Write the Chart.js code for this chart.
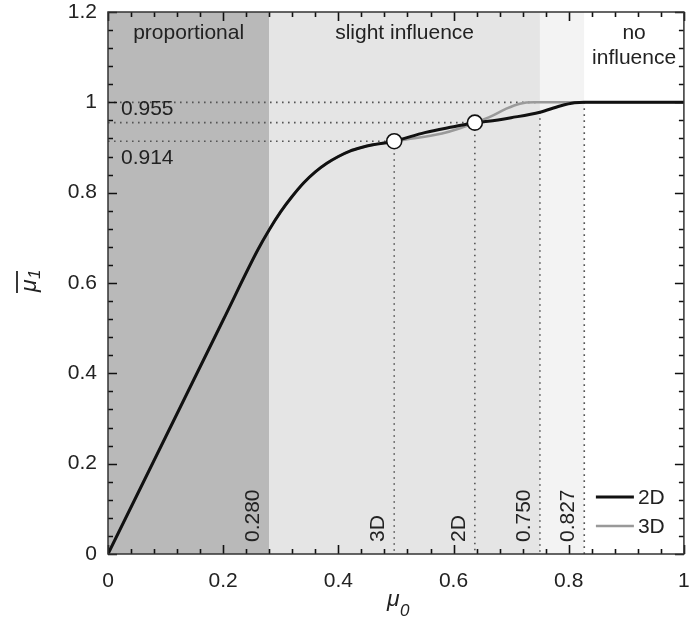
<!DOCTYPE html>
<html>
<head>
<meta charset="utf-8">
<script src="https://cdn.jsdelivr.net/npm/chart.js@4.4.1/dist/chart.umd.min.js"></script>
<style>
  html, body { margin: 0; padding: 0; background: #fff; }
  #wrap { width: 693px; height: 621px; }
</style>
</head>
<body>
<div id="wrap"><canvas id="chart"></canvas></div>
<script>
// curve (mu0 -> mean mu1)
const mu0_2D = [0, 0.1, 0.2, 0.26, 0.28, 0.30, 0.32, 0.34, 0.36, 0.38, 0.40, 0.42, 0.44, 0.46, 0.497, 0.55, 0.60, 0.637, 0.66, 0.70, 0.75, 0.785, 0.81, 0.827, 0.9, 1];
const mu1_2D = [0, 0.259, 0.518, 0.673, 0.718, 0.758, 0.792, 0.822, 0.846, 0.865, 0.880, 0.892, 0.900, 0.906, 0.914, 0.933, 0.946, 0.955, 0.958, 0.966, 0.978, 0.992, 0.999, 1, 1, 1];
const mu0_3D = [0, 0.1, 0.2, 0.26, 0.28, 0.30, 0.32, 0.34, 0.36, 0.38, 0.40, 0.42, 0.44, 0.46, 0.497, 0.52, 0.58, 0.61, 0.637, 0.665, 0.69, 0.715, 0.74, 0.8, 0.9, 1];
const mu1_3D = [0, 0.259, 0.518, 0.673, 0.718, 0.758, 0.792, 0.822, 0.846, 0.865, 0.880, 0.892, 0.900, 0.906, 0.914, 0.918, 0.931, 0.942, 0.955, 0.969, 0.985, 0.997, 1, 1, 1, 1];

// marked points (3D, 2D)
const markX = [0.497, 0.637];
const markY = [0.914, 0.955];

// shaded zones
const zoneBounds = [0, 0.28, 0.75, 0.827, 1];
const zoneColors = ['#b9b9b9', '#e5e5e5', '#f3f3f3', '#ffffff'];
const zoneTitles = [['proportional'], ['slight influence'], [], ['no', 'influence']];

// dotted guides
const hLineY = [1, 0.955, 0.914];
const hLineEnd = [0.75, 0.637, 0.497];
const vLineX = [0.28, 0.497, 0.637, 0.75, 0.827];
const vLineTop = [null, 0.914, 0.955, 0.978, 1];
const vLabels = ['0.280', '3D', '2D', '0.750', '0.827'];

const xTickVals = [0, 0.2, 0.4, 0.6, 0.8, 1];
const xTickLabels = ['0', '0.2', '0.4', '0.6', '0.8', '1'];
const yTickVals = [0, 0.2, 0.4, 0.6, 0.8, 1, 1.2];
const yTickLabels = ['0', '0.2', '0.4', '0.6', '0.8', '1', '1.2'];

const FONT = '"Liberation Sans", Arial, sans-serif';
const INK = '#222';
const SIZE = 21;

function pts(xs, ys) {
    return xs.map((x, i) => ({ x: x, y: ys[i] }));
}

const decor = {
    id: 'decor',
    beforeDatasetsDraw(chart) {
        const ctx = chart.ctx;
        const xs = chart.scales.x, ys = chart.scales.y;
        const a = chart.chartArea;
        ctx.save();
        // zones
        for (let i = 0; i < zoneColors.length; i++) {
            const x0 = xs.getPixelForValue(zoneBounds[i]);
            const x1 = xs.getPixelForValue(zoneBounds[i + 1]);
            ctx.fillStyle = zoneColors[i];
            ctx.fillRect(x0, a.top, x1 - x0, a.bottom - a.top);
        }
        // zone titles
        ctx.fillStyle = INK;
        ctx.font = SIZE + 'px ' + FONT;
        ctx.textAlign = 'center';
        ctx.textBaseline = 'middle';
        zoneTitles.forEach((lines, i) => {
            const cx = (xs.getPixelForValue(zoneBounds[i]) + xs.getPixelForValue(zoneBounds[i + 1])) / 2;
            lines.forEach((t, j) => ctx.fillText(t, cx, a.top + 21 + j * 25));
        });
        // dotted guides
        ctx.strokeStyle = '#555';
        ctx.lineWidth = 1.6;
        ctx.setLineDash([1.6, 4.4]);
        hLineY.forEach((v, i) => {
            const y = ys.getPixelForValue(v);
            ctx.beginPath();
            ctx.moveTo(a.left, y);
            ctx.lineTo(xs.getPixelForValue(hLineEnd[i]), y);
            ctx.stroke();
        });
        vLineX.forEach((v, i) => {
            if (vLineTop[i] === null) return;
            const x = xs.getPixelForValue(v);
            ctx.beginPath();
            ctx.moveTo(x, ys.getPixelForValue(vLineTop[i]));
            ctx.lineTo(x, a.bottom);
            ctx.stroke();
        });
        ctx.setLineDash([]);
        // value labels
        ctx.fillStyle = INK;
        ctx.font = SIZE + 'px ' + FONT;
        ctx.textAlign = 'left';
        ctx.textBaseline = 'middle';
        ctx.fillText('0.955', a.left + 13, ys.getPixelForValue(0.955) - 13);
        ctx.fillText('0.914', a.left + 13, ys.getPixelForValue(0.914) + 17);
        vLineX.forEach((v, i) => {
            ctx.save();
            ctx.translate(xs.getPixelForValue(v) - 16, a.bottom - 12);
            ctx.rotate(-Math.PI / 2);
            ctx.fillText(vLabels[i], 0, 0);
            ctx.restore();
        });
        ctx.restore();
    },
    afterDraw(chart) {
        const ctx = chart.ctx;
        const xs = chart.scales.x, ys = chart.scales.y;
        const a = chart.chartArea;
        ctx.save();
        ctx.setLineDash([]);
        ctx.strokeStyle = '#111';
        ctx.lineWidth = 1.6;
        // ticks on all four sides, pointing in
        ctx.beginPath();
        for (let k = 0; k <= 25; k++) {
            const len = (k % 5 === 0) ? 9 : 5;
            const x = Math.round(xs.getPixelForValue(k * 0.04)) + 0.5;
            ctx.moveTo(x, a.bottom); ctx.lineTo(x, a.bottom - len);
            ctx.moveTo(x, a.top); ctx.lineTo(x, a.top + len);
        }
        for (let k = 0; k <= 30; k++) {
            const len = (k % 5 === 0) ? 9 : 5;
            const y = Math.round(ys.getPixelForValue(k * 0.04)) + 0.5;
            ctx.moveTo(a.left, y); ctx.lineTo(a.left + len, y);
            ctx.moveTo(a.right, y); ctx.lineTo(a.right - len, y);
        }
        ctx.stroke();
        ctx.strokeStyle = '#333';
        ctx.lineWidth = 1.5;
        ctx.strokeRect(a.left, a.top, a.right - a.left, a.bottom - a.top);

        // legend
        ctx.font = SIZE + 'px ' + FONT;
        ctx.textAlign = 'left';
        ctx.textBaseline = 'middle';
        const legend = [['2D', '#111', 3], ['3D', '#999', 2.5]];
        legend.forEach((it, i) => {
            const y = a.bottom - 57 + i * 29;
            ctx.strokeStyle = it[1];
            ctx.lineWidth = it[2];
            ctx.beginPath();
            ctx.moveTo(a.right - 88, y);
            ctx.lineTo(a.right - 50, y);
            ctx.stroke();
            ctx.fillStyle = INK;
            ctx.fillText(it[0], a.right - 46, y + 1);
        });

        // axis titles
        ctx.fillStyle = INK;
        const xc = (a.left + a.right) / 2;
        ctx.font = 'italic 23px ' + FONT;
        ctx.textAlign = 'left';
        ctx.textBaseline = 'alphabetic';
        ctx.fillText('μ', xc - 9, 606);
        ctx.font = 'italic 17px ' + FONT;
        ctx.fillText('0', xc + 4, 616);

        ctx.save();
        ctx.translate(36, (a.top + a.bottom) / 2);
        ctx.rotate(-Math.PI / 2);
        ctx.font = 'italic 23px ' + FONT;
        ctx.fillText('μ', -9, 0);
        ctx.font = 'italic 17px ' + FONT;
        ctx.fillText('1', 4, 4);
        ctx.lineWidth = 1.8;
        ctx.strokeStyle = INK;
        ctx.beginPath();
        ctx.moveTo(-10, -19);
        ctx.lineTo(12, -19);
        ctx.stroke();
        ctx.restore();

        ctx.restore();
    }
};

function fixAxis(size) {
    return function(scale) {
        if (scale.isHorizontal()) scale.height = size; else scale.width = size;
        scale.paddingLeft = 0; scale.paddingRight = 0;
        scale.paddingTop = 0; scale.paddingBottom = 0;
    };
}

new Chart(document.getElementById('chart'), {
    type: 'line',
    data: {
        datasets: [
            {
                label: 'marks',
                data: pts(markX, markY),
                showLine: false,
                pointRadius: 7.5,
                pointBackgroundColor: '#fff',
                pointBorderColor: '#111',
                pointBorderWidth: 1.6,
                order: 0
            },
            {
                label: '2D',
                data: pts(mu0_2D, mu1_2D),
                borderColor: '#111',
                borderWidth: 3,
                pointRadius: 0,
                cubicInterpolationMode: 'monotone',
                order: 1
            },
            {
                label: '3D',
                data: pts(mu0_3D, mu1_3D),
                borderColor: '#9a9a9a',
                borderWidth: 2.5,
                pointRadius: 0,
                cubicInterpolationMode: 'monotone',
                order: 2
            }
        ]
    },
    options: {
        responsive: true,
        maintainAspectRatio: false,
        animation: false,
        layout: { padding: { top: 12, right: 1, left: 0, bottom: 0 } },
        plugins: {
            legend: { display: false },
            tooltip: { enabled: false }
        },
        scales: {
            x: {
                type: 'linear',
                min: 0,
                max: 1,
                afterBuildTicks: (s) => { s.ticks = xTickVals.map(v => ({ value: v })); },
                afterFit: fixAxis(67),
                grid: { display: false, drawTicks: false },
                border: { display: false },
                ticks: {
                    padding: 15,
                    color: INK,
                    font: { family: FONT, size: SIZE },
                    maxRotation: 0,
                    callback: (v, i) => xTickLabels[i]
                }
            },
            y: {
                type: 'linear',
                min: 0,
                max: 1.2,
                afterBuildTicks: (s) => { s.ticks = yTickVals.map(v => ({ value: v })); },
                afterFit: fixAxis(108),
                grid: { display: false, drawTicks: false },
                border: { display: false },
                ticks: {
                    padding: 11,
                    color: INK,
                    font: { family: FONT, size: SIZE },
                    callback: (v, i) => yTickLabels[i]
                }
            }
        }
    },
    plugins: [decor]
});
</script>
</body>
</html>
